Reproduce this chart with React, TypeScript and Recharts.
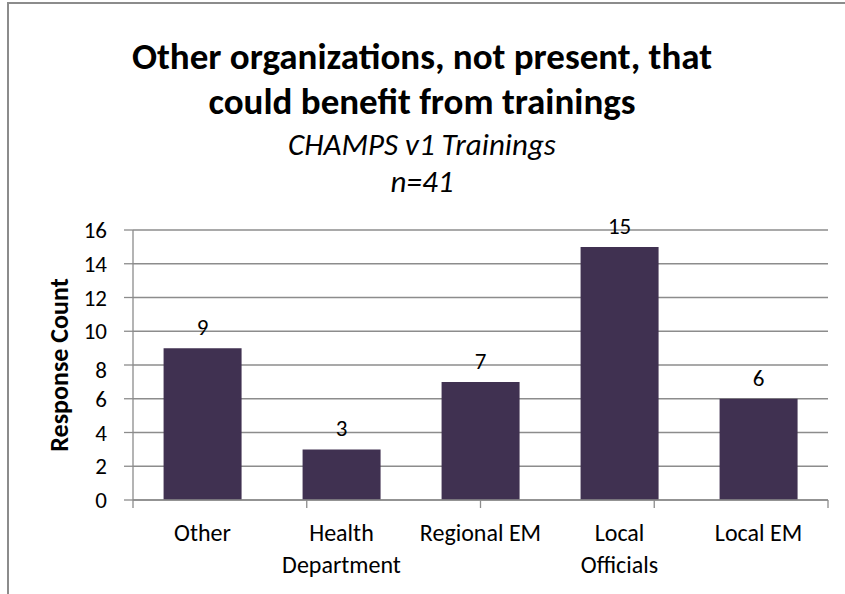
import React from 'react'
import {
  BarChart, Bar, XAxis, YAxis, CartesianGrid, LabelList,
} from 'recharts'

const categories = ['Other', 'Health\nDepartment', 'Regional EM', 'Local\nOfficials', 'Local EM']
const responseCounts = [9, 3, 7, 15, 6]
const yTicks = [0, 2, 4, 6, 8, 10, 12, 14, 16]
const edgeTicks = [0, 1, 2, 3, 4, 5]

const data = categories.map((name, i) => ({ name, count: responseCounts[i] }))

const FONT = "Carlito, Calibri, Lato, sans-serif"
const GRID = '#8c8c8c'
const BAR = '#403151'

// eslint-disable-next-line @typescript-eslint/no-explicit-any
function CategoryTick({ x, y, payload }: any) {
  const lines = String(payload.value).split('\n')
  return (
    <text x={x} y={y} textAnchor="middle" fontFamily={FONT} fontSize={24} fill="#000">
      {lines.map((l, i) => (
        <tspan key={i} x={x} dy={i === 0 ? 25 : 32}>{l}</tspan>
      ))}
    </text>
  )
}

// eslint-disable-next-line @typescript-eslint/no-explicit-any
function ValueTick({ x, y, payload }: any) {
  // the "8" sits a little low in the original
  const shift = payload.value === 8 ? 5 : 0
  return (
    <text x={x} y={y + shift} dy="0.35em" textAnchor="end" fontFamily={FONT} fontSize={23} fill="#000">
      {payload.value}
    </text>
  )
}

// eslint-disable-next-line @typescript-eslint/no-explicit-any
function AxisTitle({ viewBox }: any) {
  const cx = 59
  const cy = viewBox.y + viewBox.height / 2
  return (
    <text
      x={cx} y={cy} transform={`rotate(-90 ${cx} ${cy})`}
      textAnchor="middle" dominantBaseline="central"
      fontFamily={FONT} fontSize={26} fontWeight="bold" fill="#000"
    >
      Response Count
    </text>
  )
}

export default function App() {
  return (
    <div style={{ position: 'absolute', left: 0, top: 0, width: 845, height: 594, background: '#fff', overflow: 'hidden' }}>
      <div style={{
        position: 'absolute', left: 7, top: 2, width: 900, height: 700,
        borderLeft: `2px solid ${GRID}`, borderTop: `2px solid ${GRID}`,
      }} />
      <div style={{
        position: 'absolute', left: 7, top: 34, width: 830, textAlign: 'center',
        fontFamily: FONT, fontWeight: 'bold', fontSize: 37, lineHeight: '45px', color: '#000',
      }}>
        Other organizations, not present, that<br />could benefit from trainings
      </div>
      <div style={{
        position: 'absolute', left: 7, top: 126, width: 830, textAlign: 'center',
        fontFamily: FONT, fontStyle: 'italic', fontSize: 31, lineHeight: '37px', color: '#000',
      }}>
        CHAMPS v1 Trainings<br />n=41
      </div>
      <BarChart
        width={845}
        height={594}
        data={data}
        margin={{ top: 230, right: 17, left: 0, bottom: 0 }}
        barCategoryGap="22%"
        style={{ position: 'absolute', left: 0, top: 0 }}
      >
        <CartesianGrid vertical={false} stroke={GRID} strokeWidth={1.3} />
        <XAxis
          xAxisId="a"
          type="number"
          domain={[0, 5]}
          ticks={edgeTicks}
          allowDataOverflow
          tick={() => <g />}
          tickSize={8}
          height={8}
          stroke={GRID}
          tickLine={{ stroke: GRID, strokeWidth: 1.3 }}
          axisLine={{ stroke: GRID, strokeWidth: 1.3 }}
        />
        <XAxis
          xAxisId="b"
          dataKey="name"
          interval={0}
          tick={<CategoryTick />}
          tickLine={false}
          axisLine={false}
          height={86}
        />
        <YAxis
          domain={[0, 16]}
          ticks={yTicks}
          interval={0}
          width={133}
          tickSize={9}
          tickMargin={17}
          tick={<ValueTick />}
          tickLine={{ stroke: GRID, strokeWidth: 1.3 }}
          axisLine={{ stroke: GRID, strokeWidth: 1.3 }}
          label={<AxisTitle />}
        />
        <Bar dataKey="count" xAxisId="b" fill={BAR} isAnimationActive={false}>
          <LabelList dataKey="count" position="top" offset={13} fontFamily={FONT} fontSize={23} fill="#000" />
        </Bar>
      </BarChart>
    </div>
  )
}
